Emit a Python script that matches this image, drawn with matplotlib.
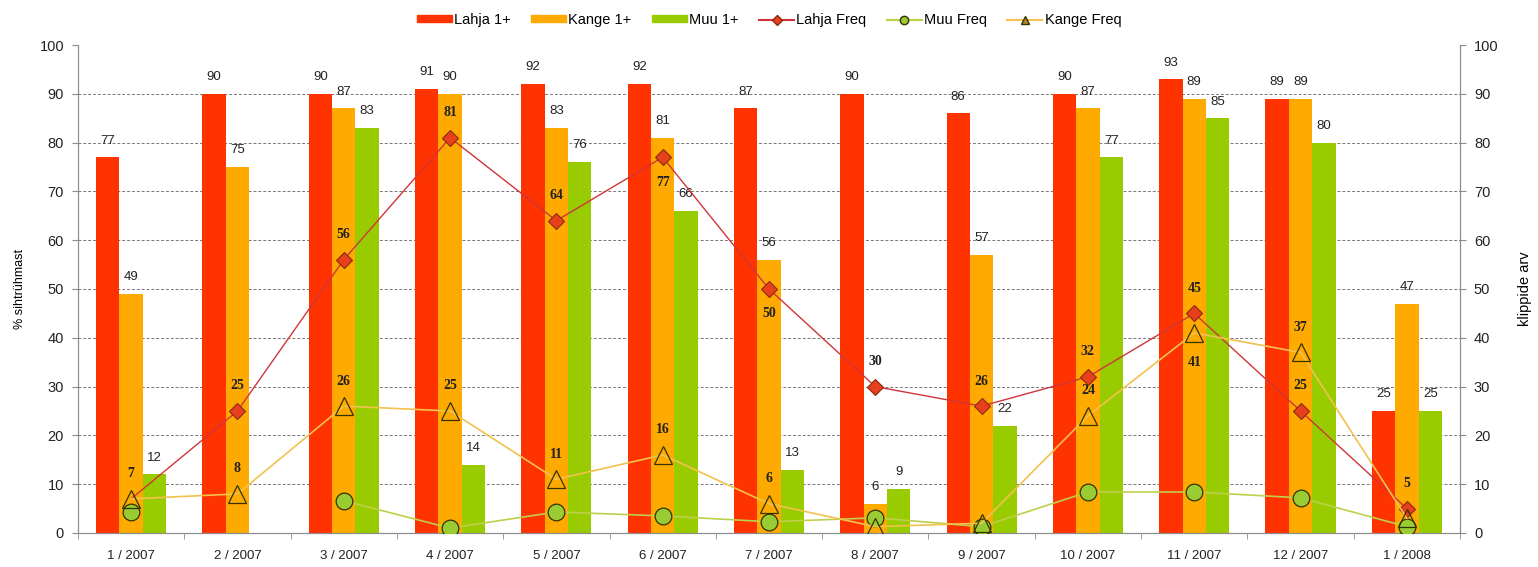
import numpy as np
import matplotlib
matplotlib.use('Agg')
import matplotlib.pyplot as plt
from matplotlib.patches import Patch
from matplotlib.lines import Line2D

plt.rcParams['font.family'] = ['Liberation Sans', 'DejaVu Sans']

# andmed
kuud = ['1 / 2007', '2 / 2007', '3 / 2007', '4 / 2007', '5 / 2007', '6 / 2007', '7 / 2007',
        '8 / 2007', '9 / 2007', '10 / 2007', '11 / 2007', '12 / 2007', '1 / 2008']
lahja_1 = [77, 90, 90, 91, 92, 92, 87, 90, 86, 90, 93, 89, 25]
kange_1 = [49, 75, 87, 90, 83, 81, 56, 6, 57, 87, 89, 89, 47]
muu_1 = [12, np.nan, 83, 14, 76, 66, 13, 9, 22, 77, 85, 80, 25]
lahja_freq = [7, 25, 56, 81, 64, 77, 50, 30, 26, 32, 45, 25, 5]
kange_freq = [7, 8, 26, 25, 11, 16, 6, 1.3, 2, 24, 41, 37, 3]
muu_freq = [4.4, np.nan, 6.6, 1.0, 4.3, 3.5, 2.3, 3.1, 1.3, 8.4, 8.4, 7.2, 1.3]

# millised sagedused saavad sildi ja kas üles või alla
lahja_silt = [None, 1, 1, 1, 1, -1, -1, 1, 1, 1, 1, 1, 1]
kange_silt = [1, 1, 1, 1, 1, 1, 1, None, None, 1, -1, 1, None]

PUNANE = '#FF3300'
ORANZ = '#FFAA00'
ROHELINE = '#99CC00'
HALL = '#8C8C8C'

x = np.arange(len(kuud))
w = 0.22

fig = plt.figure(figsize=(15.38, 5.67), dpi=100)
ax = fig.add_axes([0.0507, 0.06, 0.8986, 0.8606])
ax2 = ax.twinx()

ax.bar(x - w, lahja_1, w, color=PUNANE, zorder=2)
ax.bar(x, kange_1, w, color=ORANZ, zorder=2)
ax.bar(x + w, muu_1, w, color=ROHELINE, zorder=2)

for dx, seeria in [(-w, lahja_1), (0, kange_1), (w, muu_1)]:
    for xi, v in zip(x, seeria):
        if np.isnan(v):
            continue
        ax.annotate('%d' % v, (xi + dx, v), xytext=(0, 12), textcoords='offset points',
                    ha='center', va='center', fontsize=9.5, color='#222222')

ax2.plot(x, lahja_freq, color='#D0343A', lw=1, marker='D', ms=8.5,
         mfc='#E8401C', mec='#8A2A10', mew=0.8, markevery=list(range(1, 13)), zorder=3)
ax2.plot(x, muu_freq, color='#BFCF4A', lw=1.2, marker='o', ms=12,
         mfc='#99CC33', mec='#333300', mew=0.9, zorder=3)
ax2.plot(x, kange_freq, color='#F2C14E', lw=1.2, marker='^', ms=12.5,
         mfc='none', mec='#333300', mew=0.9, zorder=4)

silt_font = dict(fontsize=10, fontweight='bold', family='Liberation Serif', color='#222222')
for xi, v, s in zip(x, lahja_freq, lahja_silt):
    if s is None:
        continue
    ax2.annotate('%d' % v, (xi, v), xytext=(0, 18 * s), textcoords='offset points',
                 ha='center', va='center', **silt_font)
for xi, v, s in zip(x, kange_freq, kange_silt):
    if s is None:
        continue
    ax2.annotate('%d' % v, (xi, v), xytext=(0, 18 * s if s > 0 else -21),
                 textcoords='offset points', ha='center', va='center', **silt_font)

for a in (ax, ax2):
    a.set_ylim(0, 100)
    a.set_yticks(range(0, 101, 10))
    a.set_xlim(-0.5, len(kuud) - 0.5)
    a.spines['top'].set_visible(False)
    for s in ('left', 'right', 'bottom'):
        a.spines[s].set_color(HALL)
    a.tick_params(axis='y', length=4, color=HALL, labelsize=10.5, labelcolor='#222222', pad=6)

ax.yaxis.grid(True, linestyle=(0, (3, 2)), color='#777777', linewidth=0.7, zorder=0)
ax.yaxis.get_gridlines()[-1].set_visible(False)
ax.set_axisbelow(True)

ax.set_xticks(x)
ax.set_xticklabels(kuud, fontsize=9.5, color='#222222')
ax.set_xticks(np.arange(len(kuud) + 1) - 0.5, minor=True)
ax.tick_params(axis='x', which='major', length=0, pad=12)
ax.tick_params(axis='x', which='minor', length=4, color=HALL)

ax.set_ylabel('% sihtrühmast', fontsize=9, labelpad=10)
ax2.set_ylabel('klippide arv', fontsize=10.5, labelpad=14)

kirjed = [
    Patch(color=PUNANE, label='Lahja 1+'),
    Patch(color=ORANZ, label='Kange 1+'),
    Patch(color=ROHELINE, label='Muu 1+'),
    Line2D([], [], color='#D0343A', marker='D', ms=5, mfc='#E8401C', mec='#8A2A10', label='Lahja Freq'),
    Line2D([], [], color='#BFCF4A', marker='o', ms=6, mfc='#99CC33', mec='#333300', label='Muu Freq'),
    Line2D([], [], color='#F2C14E', marker='^', ms=6, mfc='#B8862B', mec='#333300', label='Kange Freq'),
]
fig.legend(handles=kirjed, loc='upper center', bbox_to_anchor=(0.5, 1.0), ncol=6, frameon=False,
           fontsize=10.5, handlelength=2.4, handleheight=0.35, columnspacing=1.4, handletextpad=0.15)

fig.savefig('out.png', dpi=100)
